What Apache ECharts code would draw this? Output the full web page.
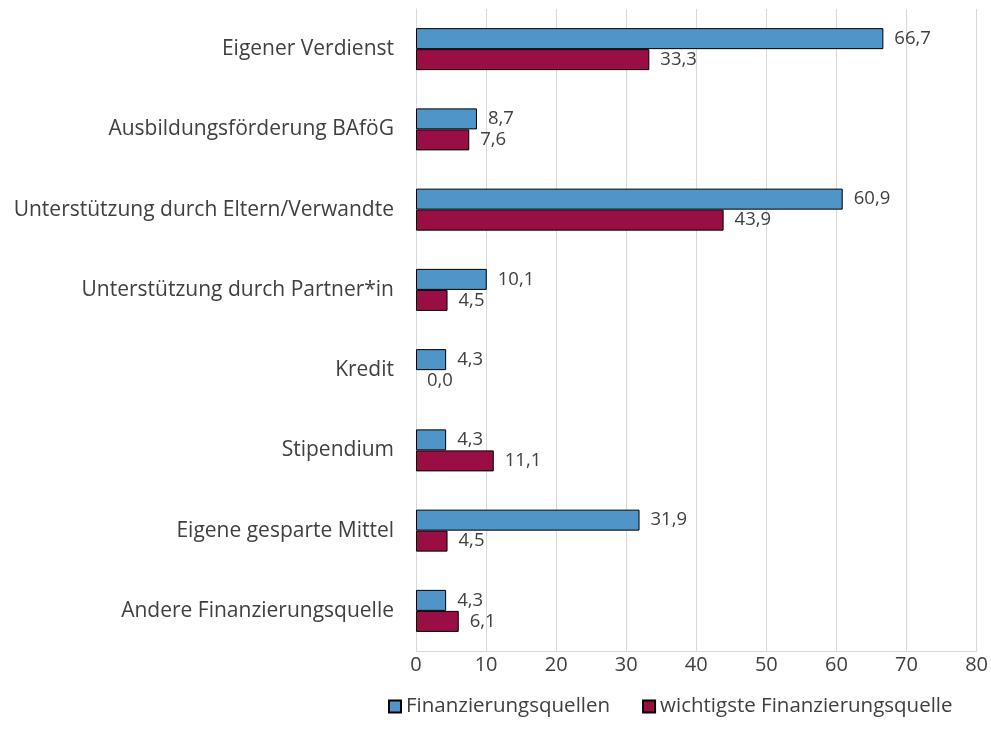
<!DOCTYPE html>
<html>
<head>
<meta charset="utf-8">
<script src="https://cdn.jsdelivr.net/npm/echarts@6/dist/echarts.min.js"></script>
<style>
  html, body { margin: 0; padding: 0; background: #fff; }
  #chart { width: 991px; height: 749px; }
</style>
</head>
<body>
<div id="chart"></div>
<script>
let categories = [
    'Eigener Verdienst',
    'Ausbildungsförderung BAföG',
    'Unterstützung durch Eltern/Verwandte',
    'Unterstützung durch Partner*in',
    'Kredit',
    'Stipendium',
    'Eigene gesparte Mittel',
    'Andere Finanzierungsquelle'
];
let quellen = [66.7, 8.7, 60.9, 10.1, 4.3, 4.3, 31.9, 4.3];
let wichtigste = [33.3, 7.6, 43.9, 4.5, 0.0, 11.1, 4.5, 6.1];
let xTicks = [0, 10, 20, 30, 40, 50, 60, 70, 80];

let FONT = '"Open Sans", "Noto Sans", sans-serif';
let TEXT = '#404040';

let chart = echarts.init(document.getElementById('chart'));

function labelFmt(p) {
    return p.value.toFixed(1).replace('.', ',');
}

// a zero bar gets no border, like the original
function barData(arr) {
    return arr.map(function (v) {
        return v === 0 ? { value: v, itemStyle: { borderWidth: 0 } } : v;
    });
}

chart.setOption({
    animation: false,
    textStyle: { fontFamily: FONT },
    grid: { left: 416, right: 14, top: 9, bottom: 98, containLabel: false },
    legend: {
        top: 691,
        left: 383,
        itemWidth: 12,
        itemHeight: 12,
        itemGap: 32,
        icon: 'rect',
        textStyle: { fontSize: 20.5, color: TEXT, fontFamily: FONT },
        data: ['Finanzierungsquellen', 'wichtigste Finanzierungsquelle']
    },
    xAxis: {
        type: 'value',
        min: xTicks[0],
        max: xTicks[xTicks.length - 1],
        interval: 10,
        axisLine: { show: true, lineStyle: { color: '#d9d9d9' } },
        axisTick: { show: false },
        axisLabel: { fontSize: 20, color: TEXT, margin: 4, fontFamily: FONT },
        splitLine: { show: true, lineStyle: { color: '#d9d9d9' } }
    },
    yAxis: {
        type: 'category',
        inverse: true,
        data: categories,
        axisLine: { show: true, lineStyle: { color: '#d9d9d9' } },
        axisTick: { show: false },
        axisLabel: { fontSize: 21, color: TEXT, margin: 22, fontFamily: FONT }
    },
    series: [
        {
            name: 'Finanzierungsquellen',
            type: 'bar',
            data: barData(quellen),
            barWidth: 21,
            barGap: '0%',
            itemStyle: { color: '#4F95C8', borderColor: '#000', borderWidth: 1 },
            label: {
                show: true, position: 'right', distance: 11,
                fontSize: 18.5, color: TEXT, fontFamily: FONT,
                formatter: labelFmt
            }
        },
        {
            name: 'wichtigste Finanzierungsquelle',
            type: 'bar',
            data: barData(wichtigste),
            barWidth: 21,
            barGap: '0%',
            itemStyle: { color: '#990F45', borderColor: '#000', borderWidth: 1 },
            label: {
                show: true, position: 'right', distance: 11,
                fontSize: 18.5, color: TEXT, fontFamily: FONT,
                formatter: labelFmt
            }
        }
    ]
});
</script>
</body>
</html>
